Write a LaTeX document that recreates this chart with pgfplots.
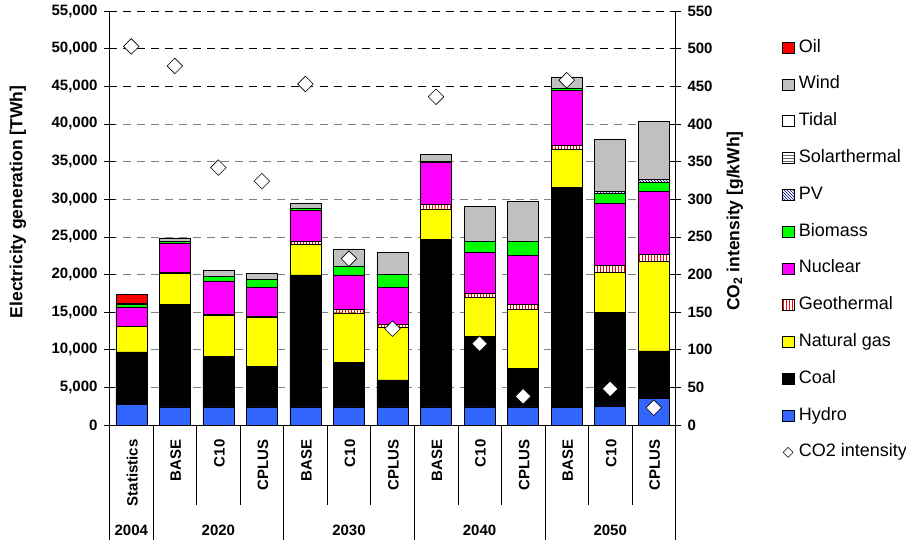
\documentclass[border=0pt]{standalone}
\usepackage{pgfplots}
\pgfplotsset{compat=1.18}
\usepackage{pgfplotstable}
\usepackage{fontspec}
\setmainfont{Liberation Sans}
\usetikzlibrary{patterns}

\definecolor{hydro}{RGB}{51,102,255}
\definecolor{gas}{RGB}{255,255,0}
\definecolor{nuclear}{RGB}{255,0,255}
\definecolor{biomass}{RGB}{0,255,0}
\definecolor{wind}{RGB}{192,192,192}
\definecolor{oil}{RGB}{255,0,0}
\definecolor{pvblue}{RGB}{0,0,128}

\newcommand\tickfont{\fontsize{15}{17}\selectfont\bfseries}
\newcommand\titlefont{\fontsize{17.5}{20}\selectfont\bfseries}
\newcommand\legfont{\fontsize{18}{20}\selectfont}

% Electricity generation by source [TWh]
\pgfplotstableread{
x  hydro coal  gas   geo  nuc  bio  pv  solar tidal wind oil
0  2700  7000  3400  0    2600 300  0   0     0     150  1250
1  2400  13600 4150  150  3900 150  0   0     0     500  0
2  2400  6700  5450  150  4450 550  0   0     0     900  0
3  2400  5350  6550  100  3900 1050 0   0     0     800  0
4  2400  17550 4050  350  4200 200  0   0     0     700  0
5  2400  5900  6600  450  4600 1200 0   0     0     2250 0
6  2400  3600  7050  350  4900 1750 0   0     0     2900 0
7  2400  22250 4050  600  5600 200  0   0     0     900  0
8  2400  9350  5200  550  5450 1450 0   0     0     4600 0
9  2400  5150  7800  700  6500 1850 0   0     0     5350 0
10 2350  29200 5050  600  7300 200  0   0     0     1550 0
11 2550  12400 5300  1000 8200 1350 250 0     0     6850 0
12 3500  6350  11850 950  8350 1250 400 0     0     7700 0
}\gen

% CO2 intensity [g/kWh]
\pgfplotstableread{
x  co2
0  503
1  477
2  342
3  324
4  453
5  221
6  128
7  436
8  108
9  38
10 458
11 48
12 23
}\cotwo

\pgfplotsset{
  lgsq/.style={legend image code/.code={\draw[##1] (0pt,-5.5pt) rectangle (12pt,5.5pt);}},
  seg/.style={draw=black, line width=0.5pt, lgsq},
}

\begin{document}
\begin{tikzpicture}
\useasboundingbox (-109.5pt,-115pt) rectangle (796.5pt,425pt);
\begin{axis}[
  at={(0pt,0pt)}, anchor=south west,
  scale only axis, width=566pt, height=414pt,
  ybar stacked, bar width=31pt,
  xmin=-0.5, xmax=12.5, ymin=0, ymax=55000,
  axis x line*=bottom, axis y line*=left,
  axis line style={-, black, line width=0.6pt},
  xtick={0,...,12},
  xticklabels={Statistics,BASE,C10,CPLUS,BASE,C10,CPLUS,BASE,C10,CPLUS,BASE,C10,CPLUS},
  x tick label style={rotate=90, anchor=east, font=\tickfont, yshift=-1pt},
  major x tick style={draw=none},
  minor xtick={-0.5,0.5,...,12.5},
  minor tick length=80pt,
  minor x tick style={black, line width=0.6pt},
  xtick align=outside, ytick align=center,
  major tick length=11pt,
  major y tick style={black, line width=0.6pt},
  ytick={0,5000,...,40000},
  extra y ticks={45000,50000,55000},
  extra y tick style={major grid style={black, dash pattern=on 8pt off 6pt, line width=0.6pt}},
  ymajorgrids,
  major grid style={black!50, dash pattern=on 8pt off 6pt, line width=0.6pt},
  scaled y ticks=false,
  y tick label style={font=\tickfont, xshift=-3pt},
  /pgf/number format/.cd, 1000 sep={,}, assume math mode=true, /pgfplots/.cd,
  ylabel={Electricity generation [TWh]},
  ylabel style={font=\titlefont, at={(axis description cs:-0.1617,0.5386)}, anchor=center},
  legend style={at={(axis description cs:1.1876,0.9326)}, anchor=north west,
    draw=none, fill=none, inner sep=0pt, row sep=19.8pt, column sep=4.5pt, font=\legfont,
    nodes={inner sep=0pt, text height=13pt, text depth=4pt}},
  legend cell align=left,
  reverse legend,
]
\addlegendimage{legend image code/.code={\draw[black, fill=white, line width=0.5pt] (1pt,0pt) -- (6pt,5pt) -- (11pt,0pt) -- (6pt,-5pt) -- cycle;}}
\addlegendentry{CO2 intensity}
\addplot[seg, fill=hydro] table[x=x, y=hydro]{\gen};
\addlegendentry{Hydro}
\addplot[seg, fill=black] table[x=x, y=coal]{\gen};
\addlegendentry{Coal}
\addplot[seg, fill=gas] table[x=x, y=gas]{\gen};
\addlegendentry{Natural gas}
\addplot[seg, pattern=vertical lines, pattern color=red] table[x=x, y=geo]{\gen};
\addlegendentry{Geothermal}
\addplot[seg, fill=nuclear] table[x=x, y=nuc]{\gen};
\addlegendentry{Nuclear}
\addplot[seg, fill=biomass] table[x=x, y=bio]{\gen};
\addlegendentry{Biomass}
\addplot[seg, pattern=north west lines, pattern color=pvblue] table[x=x, y=pv]{\gen};
\addlegendentry{PV}
\addplot[seg, pattern=horizontal lines, pattern color=black!60] table[x=x, y=solar]{\gen};
\addlegendentry{Solarthermal}
\addplot[seg, fill=white] table[x=x, y=tidal]{\gen};
\addlegendentry{Tidal}
\addplot[seg, fill=wind] table[x=x, y=wind]{\gen};
\addlegendentry{Wind}
\addplot[seg, fill=oil] table[x=x, y=oil]{\gen};
\addlegendentry{Oil}
\end{axis}

\begin{axis}[
  at={(0pt,0pt)}, anchor=south west,
  scale only axis, width=566pt, height=414pt,
  xmin=-0.5, xmax=12.5, ymin=0, ymax=550,
  axis y line*=right, axis x line*=bottom,
  axis line style={-, black, line width=0.6pt},
  ytick={0,50,...,550},
  y tick label style={font=\tickfont, xshift=3pt},
  xtick={0,2,5,8,11},
  xticklabels={2004,2020,2030,2040,2050},
  x tick label style={font=\tickfont, yshift=-85pt},
  major x tick style={draw=none},
  minor xtick={-0.5,0.5,3.5,6.5,9.5,12.5},
  minor tick length=115pt,
  minor x tick style={black, line width=0.6pt},
  xtick align=outside, ytick align=center,
  major tick length=11pt,
  major y tick style={black, line width=0.6pt},
  /pgf/number format/.cd, assume math mode=true, /pgfplots/.cd,
  ylabel={CO\textsubscript{2} intensity [g/kWh]},
  ylabel style={font=\titlefont, at={(axis description cs:1.105,0.4928)}, anchor=center},
]
\addplot[only marks, mark=square*, mark size=5.5pt,
  mark options={rotate=45, fill=white, draw=black, line width=0.6pt}]
  table[x=x, y=co2]{\cotwo};
\end{axis}
\end{tikzpicture}
\end{document}
